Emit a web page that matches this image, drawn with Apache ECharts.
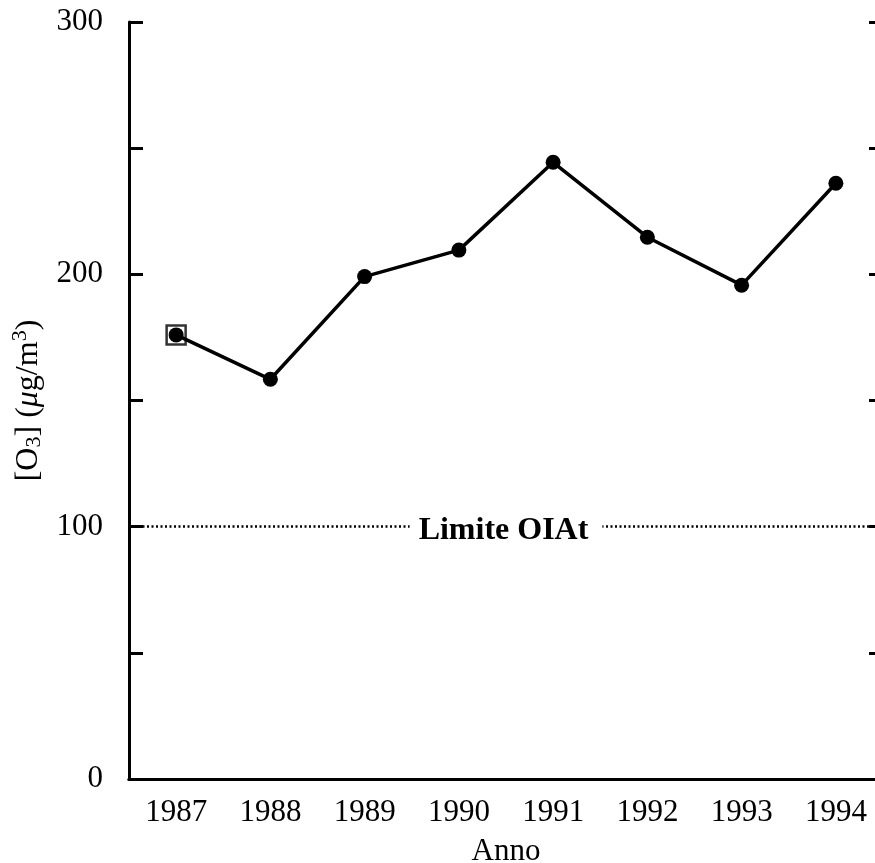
<!DOCTYPE html>
<html>
<head>
    <meta charset="UTF-8">
    <title>O3 1987-1994</title>
    <script type="text/javascript" src="https://cdn.jsdelivr.net/npm/echarts@6/dist/echarts.min.js"></script>
    <style>
        html, body { margin: 0; padding: 0; background: #fff; }
        #wrap { width: 875px; height: 863px; overflow: hidden; position: relative; }
        #main { width: 891px; height: 863px; position: absolute; left: 0; top: 0; }
    </style>
</head>
<body>
<div id="wrap"><div id="main"></div></div>
<script type="text/javascript">
    // dati
    var anni = ['1987', '1988', '1989', '1990', '1991', '1992', '1993', '1994'];
    var ozono = [176, 158.4, 199.1, 209.6, 244.4, 214.7, 195.7, 236.1];
    var primoAnno = [['1987', 176]];
    var limite = 100;
    var yTicks = [0, 100, 200, 300];

    var font = 'Liberation Serif';
    var myChart = echarts.init(document.getElementById('main'));
    myChart.setOption({
        animation: false,
        grid: { left: 129, right: 8, top: 22, bottom: 84, containLabel: false, outerBoundsMode: 'none' },
        xAxis: [{
            type: 'category',
            data: anni,
            position: 'bottom',
            boundaryGap: true,
            name: 'Anno',
            nameLocation: 'middle',
            nameGap: 57,
            nameTextStyle: { fontFamily: font, fontSize: 31, color: '#000' },
            axisLine: { lineStyle: { color: '#000', width: 3 } },
            axisTick: { alignWithLabel: true, inside: true, length: 14, lineStyle: { color: '#000', width: 3 } },
            axisLabel: { fontFamily: font, fontSize: 31, color: '#000', margin: 18 },
            splitLine: { show: false }
        }, {
            type: 'category',
            data: anni,
            position: 'top',
            boundaryGap: true,
            axisLine: { lineStyle: { color: '#000', width: 3 } },
            axisTick: { alignWithLabel: true, inside: true, length: 14, lineStyle: { color: '#000', width: 3 } },
            axisLabel: { show: false },
            splitLine: { show: false }
        }],
        yAxis: [{
            type: 'value',
            min: 0,
            max: 300,
            interval: 50,
            position: 'left',
            name: '{n|[O}{sub|3}{n|] (}{it|\u03bc}{n|g/m}{sup|3}{n|)}',
            nameLocation: 'middle',
            nameGap: 79,
            nameTextStyle: {
                fontFamily: font, fontSize: 32, color: '#000',
                rich: {
                    n: { fontFamily: font, fontSize: 32, color: '#000' },
                    it: { fontFamily: font, fontSize: 32, color: '#000', fontStyle: 'italic' },
                    sub: { fontFamily: font, fontSize: 22, color: '#000', padding: [13, 0, 0, 0] },
                    sup: { fontFamily: font, fontSize: 22, color: '#000', padding: [0, 0, 15, 0] }
                }
            },
            axisLine: { show: true, lineStyle: { color: '#000', width: 3 } },
            axisTick: { show: true, inside: true, length: 14, lineStyle: { color: '#000', width: 3 } },
            axisLabel: {
                fontFamily: font, fontSize: 31, color: '#000', margin: 26,
                formatter: function (v) { return yTicks.indexOf(v) >= 0 ? String(v) : ''; }
            },
            splitLine: { show: false }
        }, {
            type: 'value',
            min: 0,
            max: 300,
            interval: 50,
            position: 'right',
            axisLine: { show: true, lineStyle: { color: '#000', width: 3 } },
            axisTick: { show: true, inside: true, length: 14, lineStyle: { color: '#000', width: 3 } },
            axisLabel: { show: false },
            splitLine: { show: false }
        }],
        series: [{
            type: 'line',
            data: ozono,
            symbol: 'circle',
            symbolSize: 15,
            lineStyle: { color: '#000', width: 3.5 },
            itemStyle: { color: '#000' },
            z: 3,
            markLine: {
                silent: true,
                symbol: 'none',
                lineStyle: { color: '#000', type: [2, 2.5], width: 2.5 },
                label: {
                    show: true,
                    position: 'middle',
                    formatter: 'Limite OIAt',
                    fontFamily: font,
                    fontSize: 32,
                    fontWeight: 'bold',
                    color: '#000',
                    backgroundColor: '#fff',
                    padding: [2, 14, 2, 9],
                    distance: -22
                },
                data: [{ yAxis: limite }]
            }
        }, {
            type: 'scatter',
            data: primoAnno,
            symbol: 'rect',
            symbolSize: 19,
            itemStyle: { color: 'rgba(0,0,0,0)', borderColor: '#000', borderWidth: 2.5 },
            z: 2
        }]
    });
</script>
</body>
</html>
